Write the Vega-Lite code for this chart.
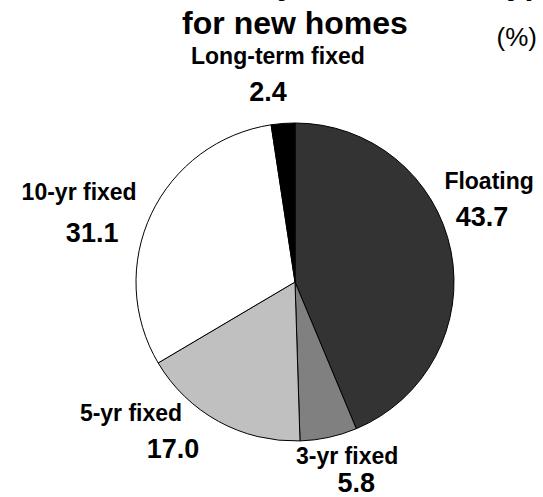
{
  "$schema": "https://vega.github.io/schema/vega-lite/v6.json",
  "autosize": "none",
  "width": 484,
  "height": 484,
  "padding": {"left": 53, "top": 40, "right": 0, "bottom": 0},
  "background": "white",
  "title": {
    "text": ["Share of loans by interest rate type", "for new homes"],
    "font": "Liberation Sans",
    "fontSize": 32,
    "fontWeight": "bold",
    "lineHeight": 40,
    "color": "black",
    "anchor": "middle",
    "frame": "group",
    "offset": -16
  },
  "config": {"view": {"stroke": null}},
  "datasets": {
    "shares": [
      {"type": "Floating", "share": 43.7, "idx": 1},
      {"type": "3-yr fixed", "share": 5.8, "idx": 2},
      {"type": "5-yr fixed", "share": 17.0, "idx": 3},
      {"type": "10-yr fixed", "share": 31.1, "idx": 4},
      {"type": "Long-term fixed", "share": 2.4, "idx": 5}
    ],
    "unit": [{"note": "(%)"}]
  },
  "layer": [
    {
      "data": {"name": "shares"},
      "mark": {"type": "arc", "outerRadius": 159, "stroke": "black", "strokeWidth": 1},
      "encoding": {
        "theta": {"field": "share", "type": "quantitative", "stack": true},
        "order": {"field": "idx", "type": "quantitative"},
        "color": {
          "field": "type",
          "type": "nominal",
          "scale": {
            "domain": ["Floating", "3-yr fixed", "5-yr fixed", "10-yr fixed", "Long-term fixed"],
            "range": ["#333333", "#808080", "#c0c0c0", "#ffffff", "#000000"]
          },
          "legend": null
        }
      }
    },
    {
      "data": {"name": "shares"},
      "mark": {
        "type": "text",
        "font": "Liberation Sans",
        "fontWeight": "bold",
        "fontSize": 23,
        "color": "black",
        "radius": 208,
        "dy": {"expr": "datum.type === '3-yr fixed' ? -13 : datum.type === '10-yr fixed' ? -20 : -18"},
        "dx": {"expr": "datum.type === '5-yr fixed' ? -20 : datum.type === 'Floating' ? 3 : datum.type === '3-yr fixed' ? -4 : datum.type === '10-yr fixed' ? -6 : 5"},
        "thetaOffset": {"expr": "datum.type === 'Floating' ? -0.208 : datum.type === '3-yr fixed' ? -0.077 : datum.type === '5-yr fixed' ? 0.262 : datum.type === '10-yr fixed' ? -0.124 : -0.031"},
        "radiusOffset": {"expr": "datum.type === '3-yr fixed' ? -12 : datum.type === '10-yr fixed' ? 13 : 0"}
      },
      "encoding": {
        "theta": {"field": "share", "type": "quantitative", "stack": true},
        "order": {"field": "idx", "type": "quantitative"},
        "detail": {"field": "type", "type": "nominal"},
        "text": {"field": "type", "type": "nominal"}
      }
    },
    {
      "data": {"name": "shares"},
      "mark": {
        "type": "text",
        "font": "Liberation Sans",
        "fontWeight": "bold",
        "fontSize": 27,
        "color": "black",
        "radius": 208,
        "dy": {"expr": "datum.type === '3-yr fixed' ? 14 : datum.type === '10-yr fixed' ? 21 : 18"},
        "dx": {"expr": "datum.type === '5-yr fixed' ? 22 : datum.type === 'Floating' ? -4 : datum.type === '3-yr fixed' ? 5 : datum.type === '10-yr fixed' ? 7 : -5"},
        "thetaOffset": {"expr": "datum.type === 'Floating' ? -0.208 : datum.type === '3-yr fixed' ? -0.077 : datum.type === '5-yr fixed' ? 0.262 : datum.type === '10-yr fixed' ? -0.124 : -0.031"},
        "radiusOffset": {"expr": "datum.type === '3-yr fixed' ? -12 : datum.type === '10-yr fixed' ? 13 : 0"}
      },
      "encoding": {
        "theta": {"field": "share", "type": "quantitative", "stack": true},
        "order": {"field": "idx", "type": "quantitative"},
        "detail": {"field": "type", "type": "nominal"},
        "text": {"field": "share", "type": "quantitative", "format": ".1f"}
      }
    },
    {
      "data": {"name": "unit"},
      "mark": {
        "type": "text",
        "font": "Liberation Sans",
        "fontSize": 26,
        "color": "black",
        "align": "right",
        "baseline": "middle",
        "dy": -2
      },
      "encoding": {
        "x": {"value": "width"},
        "y": {"value": 0},
        "text": {"field": "note", "type": "nominal"}
      }
    }
  ]
}
